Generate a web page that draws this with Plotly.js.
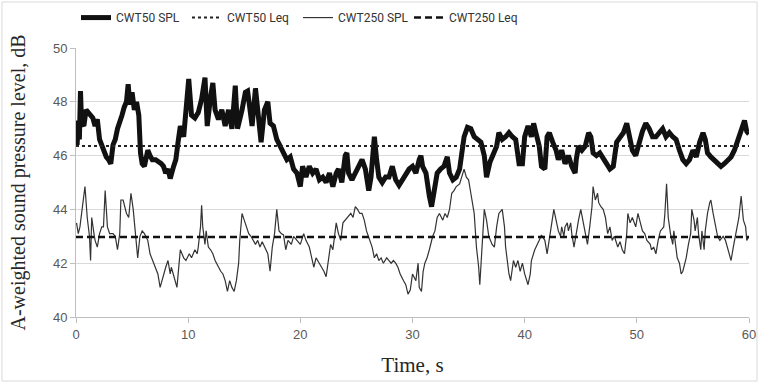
<!DOCTYPE html>
<html>
<head>
<meta charset="utf-8">
<script src="https://cdn.plot.ly/plotly-3.0.1.min.js"></script>
<style>html,body{margin:0;padding:0;background:#fff;}#chart{width:760px;height:383px;}</style>
</head>
<body>
<div id="chart"></div>
<script>
// ---- data ----
const seriesNames = ["CWT50 SPL", "CWT50 Leq", "CWT250 SPL", "CWT250 Leq"];
const xTickVals = [0, 10, 20, 30, 40, 50, 60];
const yTickVals = [40, 42, 44, 46, 48, 50];

const time50 = [
  0,0.1,0.2,0.3,0.4,0.5,0.7,0.9,1.1,1.3,
  1.5,1.7,1.9,2.1,2.3,2.5,2.7,2.9,3.1,3.3,
  3.5,3.7,3.9,4.1,4.3,4.5,4.65,4.8,5.0,5.2,
  5.4,5.6,5.75,5.9,6.1,6.4,6.6,6.8,7.1,7.3,
  7.6,7.8,8.0,8.2,8.4,8.7,8.9,9.1,9.3,9.6,
  9.8,10.05,10.3,10.6,10.9,11.2,11.5,11.7,12.0,12.2,
  12.4,12.7,13.0,13.3,13.6,13.9,14.2,14.4,14.8,15.1,
  15.3,15.5,15.7,16.0,16.2,16.5,16.8,17.1,17.3,17.6,
  17.9,18.2,18.5,18.8,19.1,19.4,19.7,20.0,20.2,20.5,
  20.8,21.1,21.4,21.7,22.0,22.3,22.6,22.9,23.2,23.4,
  23.7,24.0,24.15,24.3,24.6,24.9,25.2,25.5,25.8,26.1,
  26.3,26.6,26.8,27.0,27.3,27.6,27.9,28.2,28.5,28.8,
  29.1,29.4,29.7,30.0,30.3,30.6,30.75,30.9,31.2,31.5,
  31.7,31.9,32.2,32.5,32.8,33.1,33.3,33.6,33.9,34.2,
  34.4,34.6,34.9,35.2,35.5,35.8,36.1,36.4,36.6,36.9,
  37.2,37.5,37.7,38.0,38.3,38.6,38.9,39.2,39.5,39.8,
  40.0,40.3,40.6,40.8,41.0,41.3,41.5,41.8,42.0,42.2,
  42.5,42.8,43.0,43.3,43.6,43.9,44.2,44.5,44.6,44.8,
  45.1,45.4,45.7,45.9,46.1,46.4,46.7,47.0,47.3,47.6,
  47.9,48.2,48.5,48.8,49.1,49.3,49.6,49.9,50.2,50.5,
  50.8,51.1,51.4,51.7,52.0,52.3,52.6,52.9,53.2,53.5,
  53.8,54.1,54.4,54.7,55.0,55.3,55.6,55.9,56.1,56.3,
  56.6,56.9,57.2,57.5,57.8,58.1,58.4,58.7,59.0,59.3,
  59.6,59.8,60.0
];
const spl50 = [
  47.0,46.4,47.3,46.6,48.4,47.2,47.1,47.7,47.6,47.5,
  47.4,47.1,47.35,46.6,46.35,46.2,45.95,45.85,45.7,46.4,
  46.6,47.0,47.35,47.5,47.8,48.0,48.65,47.9,48.35,47.7,
  48.0,47.5,46.1,45.7,45.6,46.2,46.0,45.85,45.85,45.8,
  45.7,45.6,45.35,45.5,45.15,45.6,45.85,46.5,47.1,46.7,
  47.7,48.85,47.5,47.4,47.6,48.1,48.9,47.1,48.2,48.7,
  47.7,47.35,47.7,47.1,47.7,47.0,48.6,47.0,47.7,48.35,
  48.4,47.7,47.1,48.5,47.7,46.5,47.7,48.0,47.2,47.1,
  46.6,46.35,46.2,45.85,45.95,45.5,45.35,44.85,45.6,45.2,
  45.6,45.35,45.5,45.1,45.2,45.0,45.35,44.85,45.35,45.5,
  45.0,46.0,46.1,45.35,45.1,45.35,45.5,45.85,45.5,44.7,
  45.2,46.7,45.85,45.2,45.0,45.2,45.2,45.6,45.1,44.9,
  45.1,45.35,45.5,45.6,45.35,45.85,46.0,45.6,45.35,44.5,
  44.1,44.6,45.35,45.5,45.6,45.95,45.35,45.1,45.2,45.5,
  46.1,46.7,47.05,47.0,46.7,46.6,46.5,46.0,45.2,45.75,
  46.0,46.35,46.85,46.6,46.7,46.85,46.7,46.6,45.7,45.7,
  46.7,47.1,46.7,47.2,46.85,46.35,45.6,45.5,46.7,46.85,
  46.5,46.2,45.85,46.2,45.7,46.0,45.6,45.35,45.85,46.35,
  46.2,46.35,46.85,46.7,46.1,46.0,46.1,45.85,45.7,45.5,
  45.6,46.5,46.7,46.85,47.2,46.85,46.2,46.0,46.5,46.9,
  47.2,47.0,46.7,46.7,46.85,47.0,46.7,46.85,46.7,46.6,
  46.2,45.85,45.7,45.85,46.2,45.95,46.5,46.85,46.6,46.1,
  45.95,45.85,45.7,45.6,45.7,45.85,45.95,46.2,46.6,47.0,
  47.3,46.9,46.8
];

const time250 = [
  0.05,0.2,0.35,0.6,0.8,1.0,1.2,1.3,1.4,1.6,
  1.7,1.9,2.1,2.3,2.45,2.6,2.8,3.0,3.3,3.5,
  3.7,3.9,4.0,4.2,4.5,4.7,4.9,5.1,5.3,5.5,
  5.7,5.9,6.1,6.4,6.6,6.9,7.1,7.3,7.5,7.8,
  8.0,8.2,8.4,8.5,8.8,9.0,9.3,9.6,9.8,10.1,
  10.3,10.6,10.8,10.9,11.1,11.2,11.3,11.5,11.6,11.8,
  12.0,12.2,12.4,12.7,12.9,13.1,13.3,13.5,13.7,13.9,
  14.1,14.3,14.5,14.6,14.8,15.0,15.2,15.4,15.6,15.8,
  16.0,16.2,16.4,16.6,16.8,17.1,17.3,17.5,17.7,17.9,
  18.1,18.3,18.5,18.7,18.9,19.2,19.4,19.7,20.0,20.3,
  20.5,20.8,21.0,21.2,21.4,21.7,21.9,22.1,22.3,22.5,
  22.7,22.9,23.1,23.2,23.4,23.6,23.8,24.0,24.2,24.5,
  24.7,24.9,25.1,25.3,25.5,25.7,25.9,26.2,26.4,26.6,
  26.8,27.0,27.2,27.4,27.7,27.9,28.1,28.3,28.5,28.7,
  28.9,29.2,29.4,29.6,29.8,30.0,30.3,30.5,30.6,30.8,
  30.95,31.1,31.3,31.5,31.8,32.0,32.2,32.4,32.7,32.9,
  33.1,33.3,33.5,33.7,33.9,34.2,34.4,34.6,34.8,35.0,
  35.2,35.5,35.7,35.9,36.0,36.2,36.4,36.6,36.8,37.1,
  37.3,37.5,37.7,38.0,38.2,38.3,38.6,38.75,39.0,39.2,
  39.4,39.6,39.8,40.0,40.3,40.5,40.6,40.9,41.1,41.3,
  41.5,41.8,42.0,42.2,42.4,42.6,42.8,43.0,43.2,43.3,
  43.5,43.6,43.8,43.9,44.1,44.2,44.4,44.6,44.8,45.0,
  45.2,45.4,45.6,45.8,46.0,46.1,46.3,46.5,46.6,46.8,
  47.0,47.2,47.4,47.6,47.8,48.0,48.3,48.5,48.7,48.9,
  49.1,49.2,49.4,49.6,49.9,50.1,50.3,50.5,50.7,50.9,
  51.2,51.3,51.5,51.7,51.9,52.1,52.4,52.5,52.65,52.8,
  53.0,53.2,53.3,53.5,53.6,53.8,53.95,54.1,54.4,54.6,
  54.8,54.9,55.1,55.2,55.4,55.5,55.7,55.8,56.0,56.1,
  56.3,56.5,56.6,56.8,57.0,57.2,57.4,57.7,57.9,58.2,
  58.4,58.6,58.8,59.1,59.3,59.5,59.7,59.8,60.0
];
const spl250 = [
  43.5,43.1,43.35,44.1,44.85,43.7,43.0,42.1,43.7,43.1,
  42.85,42.6,43.1,43.35,43.35,44.7,43.35,43.1,43.1,43.0,
  42.5,43.1,44.35,44.35,43.85,43.7,44.6,44.0,43.2,42.2,
  43.0,43.2,43.1,42.85,42.35,42.0,41.85,41.6,41.1,41.6,
  41.85,42.1,41.6,41.85,41.35,41.1,42.5,42.2,42.1,42.35,
  42.2,42.5,42.35,42.6,43.35,44.15,43.35,42.7,43.2,42.6,
  42.5,42.35,42.1,41.85,41.7,41.6,41.35,40.95,41.35,41.1,
  40.95,41.35,42.0,42.85,43.85,43.6,43.35,43.1,43.0,42.85,
  42.7,42.85,42.6,42.8,42.6,42.35,41.7,42.6,43.1,44.0,
  43.2,43.1,43.05,42.5,42.85,42.7,43.0,42.85,42.7,43.1,
  42.85,42.6,42.2,41.85,42.2,42.0,41.85,41.7,41.5,42.2,
  42.7,42.5,43.1,43.5,43.1,42.85,43.5,43.6,43.7,43.85,
  43.7,44.1,44.0,43.85,43.85,43.6,43.2,42.85,42.6,42.2,
  42.35,42.1,42.2,42.0,42.2,42.1,42.0,42.1,42.0,41.85,
  41.6,41.35,41.2,40.85,41.0,41.6,41.35,42.0,41.1,40.95,
  41.7,42.0,42.2,42.5,43.0,43.2,43.7,43.85,43.6,43.85,
  43.7,44.0,44.6,44.7,44.85,44.95,45.2,45.5,45.2,45.1,
  44.6,43.85,42.6,41.85,41.2,42.5,44.0,43.6,43.0,42.7,
  42.6,43.35,43.85,44.0,43.35,42.6,41.6,41.35,42.1,41.85,
  42.1,41.7,42.0,41.6,41.2,41.6,42.1,42.5,42.65,42.85,
  43.05,42.85,42.35,42.85,43.5,44.0,43.6,43.2,43.0,43.35,
  43.0,43.35,43.5,43.2,43.5,43.1,42.6,43.2,43.6,44.0,
  43.6,43.1,42.7,43.35,44.1,44.85,44.35,44.6,44.25,44.1,
  44.0,43.7,43.1,43.35,42.85,43.0,42.6,42.8,42.5,42.35,
  43.1,43.85,43.5,43.7,43.35,43.85,43.5,43.2,43.1,42.85,
  42.7,42.5,42.6,42.35,42.85,43.2,43.35,43.85,44.95,43.7,
  43.1,42.7,43.2,42.6,42.2,42.0,41.6,41.7,42.2,42.7,
  43.1,44.0,43.6,43.2,43.7,43.1,42.5,43.2,42.5,43.2,
  43.85,44.25,44.35,43.85,43.35,43.0,42.85,43.0,42.85,42.35,
  42.1,42.6,43.1,43.7,44.5,43.6,43.35,42.85,43.0
];

const leqTime = [0, 60];
const leq50 = [46.36, 46.36];
const leq250 = [42.97, 42.97];

// ---- chart ----
const traces = [
  {x: time50, y: spl50, name: seriesNames[0], mode: "lines",
   line: {color: "#111111", width: 5}},
  {x: leqTime, y: leq50, name: seriesNames[1], mode: "lines",
   line: {color: "#222222", width: 2, dash: "dot"}},
  {x: time250, y: spl250, name: seriesNames[2], mode: "lines",
   line: {color: "#333333", width: 1.2}},
  {x: leqTime, y: leq250, name: seriesNames[3], mode: "lines",
   line: {color: "#111111", width: 2.5, dash: "7px,4px"}}
];

const tickFont = {family: "Liberation Sans, Arial, sans-serif", size: 13, color: "#595959"};
const titleFont = {family: "Liberation Serif, Times New Roman, serif", size: 20, color: "#262626"};

const layout = {
  width: 760, height: 383,
  margin: {l: 76, r: 11, t: 48, b: 66, autoexpand: false},
  paper_bgcolor: "#ffffff", plot_bgcolor: "#ffffff",
  showlegend: true,
  legend: {orientation: "h", x: 0.0, xanchor: "left", y: 1.167, yanchor: "top",
           font: {family: "Roboto, Liberation Sans, Arial, sans-serif", size: 12, color: "#333333"},
           itemwidth: 30, entrywidth: 66, entrywidthmode: "pixels", tracegroupgap: 0},
  xaxis: {range: [0, 60], tickvals: xTickVals, showgrid: false, zeroline: false,
          showline: true, linecolor: "#bfbfbf", linewidth: 1,
          ticks: "outside", ticklen: 5, tickcolor: "#bfbfbf",
          tickfont: tickFont, fixedrange: true, automargin: false,
          title: {text: "Time, s", font: {family: titleFont.family, size: 21, color: titleFont.color}, standoff: 16}},
  yaxis: {range: [40, 50], tickvals: yTickVals, showgrid: true, gridcolor: "#d9d9d9",
          zeroline: false, showline: true, linecolor: "#bfbfbf", linewidth: 1,
          ticks: "outside", ticklen: 5, tickcolor: "#bfbfbf",
          tickfont: tickFont, fixedrange: true, automargin: false,
          title: {text: "A-weighted sound pressure level, dB", font: titleFont, standoff: 21}},
  shapes: [
    {type: "rect", xref: "paper", yref: "paper",
     x0: -0.11, x1: 1.0119, y0: -0.238, y1: 1.171,
     line: {color: "#d9d9d9", width: 1}, fillcolor: "rgba(0,0,0,0)", layer: "below"}
  ]
};

Plotly.newPlot("chart", traces, layout, {displayModeBar: false, staticPlot: true});
</script>
</body>
</html>
